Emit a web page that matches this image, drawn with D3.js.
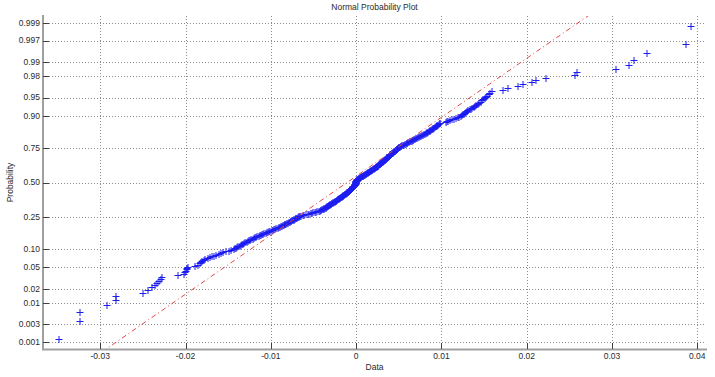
<!DOCTYPE html>
<html>
<head>
<meta charset="utf-8">
<script src="https://cdn.jsdelivr.net/npm/d3@7/dist/d3.min.js"></script>
<style>
  body { margin: 0; background: #fff; }
  svg { display: block; font-family: "Liberation Sans", Arial, sans-serif; }
</style>
</head>
<body>
<div id="chart"></div>
<script>
// sorted sample values (n = 400)
const sampleData = [
  -0.03491, -0.03252, -0.03250, -0.02935, -0.02830, -0.02828, -0.02510, -0.02455, -0.02404, -0.02369,
  -0.02346, -0.02319, -0.02305, -0.02284, -0.02100, -0.02033, -0.02018, -0.02006, -0.02000, -0.01994,
  -0.01988, -0.01895, -0.01866, -0.01838,
  -0.01828, -0.01815, -0.01801, -0.01780, -0.01754, -0.01728, -0.01702, -0.01676, -0.01650, -0.01623,
  -0.01597, -0.01567, -0.01536, -0.01506, -0.01476, -0.01445, -0.01432, -0.01418, -0.01405, -0.01391,
  -0.01378, -0.01364, -0.01351, -0.01337,
  -0.01324, -0.01310, -0.01295, -0.01281, -0.01267, -0.01253, -0.01239, -0.01225, -0.01210, -0.01196, -0.01182,
  -0.01168, -0.01154, -0.01141, -0.01127, -0.01113, -0.01100, -0.01086, -0.01072, -0.01059, -0.01045, -0.01031, -0.01017,
  -0.01003, -0.00989, -0.00975, -0.00960, -0.00946, -0.00932, -0.00918, -0.00904,
  -0.00893, -0.00882, -0.00872, -0.00861, -0.00851, -0.00840, -0.00830, -0.00820, -0.00809, -0.00799, -0.00788,
  -0.00779, -0.00770, -0.00762, -0.00754, -0.00745, -0.00737, -0.00728, -0.00720, -0.00711, -0.00703,
  -0.00695, -0.00686, -0.00678, -0.00669,
  -0.00655, -0.00636, -0.00618, -0.00599, -0.00581, -0.00562,
  -0.00544, -0.00528, -0.00512, -0.00496, -0.00480, -0.00465, -0.00449,
  -0.00438, -0.00429, -0.00420, -0.00412, -0.00403, -0.00394, -0.00385, -0.00377,
  -0.00370, -0.00363, -0.00357, -0.00351, -0.00345, -0.00338, -0.00332, -0.00326, -0.00320, -0.00313, -0.00307,
  -0.00301, -0.00295, -0.00289, -0.00283, -0.00277, -0.00271, -0.00264, -0.00258, -0.00252, -0.00246, -0.00240, -0.00234,
  -0.00228, -0.00223, -0.00217, -0.00211, -0.00205, -0.00200, -0.00194, -0.00188, -0.00183, -0.00177,
  -0.00171, -0.00166, -0.00160, -0.00154, -0.00148, -0.00143, -0.00137, -0.00131, -0.00126, -0.00120,
  -0.00116, -0.00112, -0.00109, -0.00105, -0.00101, -0.00097, -0.00093, -0.00089, -0.00086, -0.00082,
  -0.00078, -0.00074, -0.00070, -0.00066, -0.00063, -0.00059, -0.00055, -0.00051, -0.00047, -0.00043,
  -0.00040, -0.00036, -0.00032, -0.00028, -0.00024,
  -0.00022, -0.00021, -0.00020, -0.00018, -0.00017, -0.00016, -0.00015, -0.00013, -0.00012, -0.00011,
  -0.00010, -0.00009, -0.00007, -0.00006, -0.00005,
  -0.00003, 0.00003, 0.00008, 0.00014, 0.00020, 0.00026, 0.00031, 0.00037, 0.00043, 0.00048,
  0.00054, 0.00060, 0.00065, 0.00071, 0.00077, 0.00082, 0.00088, 0.00094, 0.00099, 0.00105, 0.00111,
  0.00117, 0.00122, 0.00128, 0.00134, 0.00140, 0.00146, 0.00152, 0.00158, 0.00164, 0.00170,
  0.00176, 0.00182, 0.00187, 0.00193, 0.00199, 0.00205, 0.00211, 0.00217, 0.00223, 0.00229,
  0.00234, 0.00239, 0.00244, 0.00249, 0.00254, 0.00258, 0.00263, 0.00268, 0.00273, 0.00278,
  0.00283, 0.00288, 0.00293, 0.00298, 0.00303, 0.00307, 0.00312, 0.00317, 0.00322, 0.00327,
  0.00332, 0.00337, 0.00342, 0.00346,
  0.00351, 0.00355, 0.00360, 0.00364, 0.00368, 0.00373, 0.00377, 0.00381, 0.00386,
  0.00391, 0.00396, 0.00402, 0.00407, 0.00413, 0.00418, 0.00424, 0.00429, 0.00435, 0.00440,
  0.00446, 0.00451, 0.00457, 0.00462, 0.00468, 0.00473, 0.00478, 0.00484, 0.00489, 0.00495, 0.00500,
  0.00509, 0.00519, 0.00529, 0.00539, 0.00549, 0.00559, 0.00569, 0.00580, 0.00590, 0.00600,
  0.00610, 0.00620, 0.00630, 0.00640, 0.00650,
  0.00660, 0.00671, 0.00683, 0.00694, 0.00705, 0.00716, 0.00727, 0.00738, 0.00750, 0.00761,
  0.00772, 0.00783, 0.00795, 0.00806,
  0.00817, 0.00825, 0.00834, 0.00843, 0.00852, 0.00860, 0.00869, 0.00878, 0.00887, 0.00895,
  0.00904, 0.00913, 0.00922, 0.00931, 0.00939, 0.00948, 0.00957, 0.00966,
  0.00972, 0.01046,
  0.01048, 0.01069, 0.01091, 0.01112, 0.01134, 0.01155, 0.01177, 0.01199,
  0.01213, 0.01225, 0.01237, 0.01250, 0.01262, 0.01275,
  0.01288, 0.01304, 0.01319, 0.01335, 0.01351, 0.01366, 0.01382, 0.01398,
  0.01415, 0.01432, 0.01448, 0.01465,
  0.01481, 0.01497, 0.01513, 0.01528, 0.01544, 0.01560, 0.01576,
  0.01707, 0.01766, 0.01890, 0.01948, 0.02047, 0.02097, 0.02215, 0.02555, 0.02581, 0.03039,
  0.03191, 0.03250, 0.03395, 0.03855, 0.03914
];

const xTicks = [-0.03, -0.02, -0.01, 0, 0.01, 0.02, 0.03, 0.04];
const xTickLabels = ["-0.03", "-0.02", "-0.01", "0", "0.01", "0.02", "0.03", "0.04"];
const probTicks = [0.001, 0.003, 0.01, 0.02, 0.05, 0.10, 0.25, 0.50, 0.75, 0.90, 0.95, 0.98, 0.99, 0.997, 0.999];
const probTickLabels = ["0.001", "0.003", "0.01", "0.02", "0.05", "0.10", "0.25", "0.50", "0.75", "0.90", "0.95", "0.98", "0.99", "0.997", "0.999"];
const xLimits = [-0.03671, 0.04102];
const zLimits = [-3.222, 3.222];

const width = 715, height = 377;
const plot = { left: 43, right: 706, top: 16, bottom: 349 };

// inverse normal cdf (Acklam's rational approximation)
function probit(p) {
    const a = [-39.69683028665376, 220.9460984245205, -275.9285104469687, 138.3577518672690, -30.66479806614716, 2.506628277459239];
    const b = [-54.47609879822406, 161.5858368580409, -155.6989798598866, 66.80131188771972, -13.28068155288572];
    const c = [-0.007784894002430293, -0.3223964580411365, -2.400758276684164, -2.549732539343734, 4.374664141464968, 2.938163982698783];
    const d = [0.007784695709041462, 0.3224671290700398, 2.445134137142996, 3.754408181175277];
    const pLow = 0.02425;
    if (p < pLow) {
        const q = Math.sqrt(-2 * Math.log(p));
        return (((((c[0] * q + c[1]) * q + c[2]) * q + c[3]) * q + c[4]) * q + c[5]) /
            ((((d[0] * q + d[1]) * q + d[2]) * q + d[3]) * q + 1);
    }
    if (p > 1 - pLow) {
        const q = Math.sqrt(-2 * Math.log(1 - p));
        return -(((((c[0] * q + c[1]) * q + c[2]) * q + c[3]) * q + c[4]) * q + c[5]) /
            ((((d[0] * q + d[1]) * q + d[2]) * q + d[3]) * q + 1);
    }
    const q = p - 0.5, r = q * q;
    return (((((a[0] * r + a[1]) * r + a[2]) * r + a[3]) * r + a[4]) * r + a[5]) * q /
        (((((b[0] * r + b[1]) * r + b[2]) * r + b[3]) * r + b[4]) * r + 1);
}

const x = d3.scaleLinear().domain(xLimits).range([plot.left, plot.right]);
const yZ = d3.scaleLinear().domain(zLimits).range([plot.bottom, plot.top]);
const y = p => yZ(probit(p));
const crisp = v => Math.round(v) + 0.5;

const svg = d3.select("#chart").append("svg")
    .attr("width", width)
    .attr("height", height);

svg.append("rect").attr("width", width).attr("height", height).attr("fill", "#fff");

svg.append("defs").append("clipPath").attr("id", "plot-clip")
    .append("rect")
    .attr("x", plot.left).attr("y", plot.top)
    .attr("width", plot.right - plot.left).attr("height", plot.bottom - plot.top);

// dotted grid
const grid = svg.append("g")
    .attr("stroke", "#8c8c8c")
    .attr("stroke-width", 1)
    .attr("stroke-dasharray", "1,2")
    .attr("shape-rendering", "crispEdges");

grid.selectAll(".vgrid").data(xTicks).enter().append("line")
    .attr("class", "vgrid")
    .attr("x1", d => crisp(x(d))).attr("x2", d => crisp(x(d)))
    .attr("y1", plot.top).attr("y2", plot.bottom);

grid.selectAll(".hgrid").data(probTicks).enter().append("line")
    .attr("class", "hgrid")
    .attr("x1", plot.left).attr("x2", plot.right)
    .attr("y1", d => crisp(y(d))).attr("y2", d => crisp(y(d)));

// data points as '+' markers, plotted at (i - 0.5) / n
const n = sampleData.length;
const pts = sampleData.map((v, i) => ({ v, p: (i + 0.5) / n }));

svg.append("g")
    .attr("clip-path", "url(#plot-clip)")
    .selectAll(".pt").data(pts).enter().append("path")
    .attr("class", "pt")
    .attr("d", d => {
        const cx = crisp(x(d.v)), cy = crisp(y(d.p));
        return `M${cx - 3},${cy}h7M${cx + 0.5},${cy - 3.5}v7`;
    })
    .attr("fill", "none")
    .attr("stroke", "#1c1cf0")
    .attr("stroke-width", 1);

// reference line through the first and third quartiles
const q1 = d3.quantile(sampleData, 0.25), q3 = d3.quantile(sampleData, 0.75);
const z1 = probit(0.25), z3 = probit(0.75);
const slope = (z3 - z1) / (q3 - q1);
const zAt = v => z1 + slope * (v - q1);

svg.append("line")
    .attr("clip-path", "url(#plot-clip)")
    .attr("x1", x(xLimits[0])).attr("y1", yZ(zAt(xLimits[0])))
    .attr("x2", x(xLimits[1])).attr("y2", yZ(zAt(xLimits[1])))
    .attr("stroke", "#e04848")
    .attr("stroke-width", 1)
    .attr("stroke-dasharray", "5,3,1,3");

// axes lines
svg.append("line")
    .attr("x1", plot.left).attr("x2", plot.left)
    .attr("y1", plot.top - 1).attr("y2", plot.bottom + 1)
    .attr("stroke", "#a0a0a0").attr("stroke-width", 2);
svg.append("line")
    .attr("x1", plot.left - 1).attr("x2", plot.right + 1)
    .attr("y1", plot.bottom + 0.5).attr("y2", plot.bottom + 0.5)
    .attr("stroke", "#a0a0a0").attr("stroke-width", 2);

// tick marks (inward)
const ticks = svg.append("g").attr("stroke", "#404040").attr("stroke-width", 1)
    .attr("shape-rendering", "crispEdges");
ticks.selectAll(".yt").data(probTicks).enter().append("line")
    .attr("x1", plot.left).attr("x2", plot.left + 6)
    .attr("y1", d => crisp(y(d))).attr("y2", d => crisp(y(d)));
ticks.selectAll(".xt").data(xTicks).enter().append("line")
    .attr("x1", d => crisp(x(d))).attr("x2", d => crisp(x(d)))
    .attr("y1", plot.bottom).attr("y2", plot.bottom - 6);

// tick labels
const labelStyle = sel => sel
    .attr("fill", "#2a2a2a")
    .style("font-size", "8.5px");

svg.selectAll(".ylab").data(probTicks).enter().append("text")
    .attr("x", plot.left - 3)
    .attr("y", d => y(d))
    .attr("dy", "0.35em")
    .attr("text-anchor", "end")
    .text((d, i) => probTickLabels[i])
    .call(labelStyle);

svg.selectAll(".xlab").data(xTicks).enter().append("text")
    .attr("x", d => x(d))
    .attr("y", plot.bottom + 10)
    .attr("text-anchor", "middle")
    .text((d, i) => xTickLabels[i])
    .call(labelStyle);

// title and axis labels
const midX = (plot.left + plot.right) / 2;
svg.append("text")
    .attr("x", midX).attr("y", 10)
    .attr("text-anchor", "middle")
    .text("Normal Probability Plot")
    .call(labelStyle);

svg.append("text")
    .attr("x", midX).attr("y", 370)
    .attr("text-anchor", "middle")
    .text("Data")
    .call(labelStyle);

svg.append("text")
    .attr("transform", `translate(13,${yZ(0)}) rotate(-90)`)
    .attr("text-anchor", "middle")
    .text("Probability")
    .call(labelStyle);
</script>
</body>
</html>
